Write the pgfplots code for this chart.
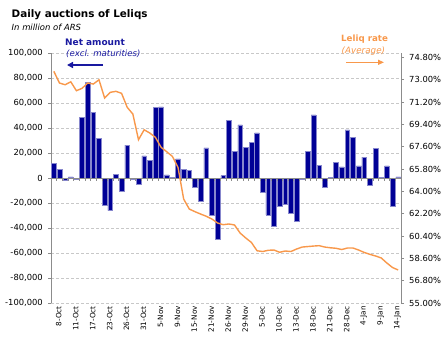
\documentclass[border=0pt]{standalone}
\usepackage{fontspec}
\setmainfont{DejaVu Sans}
\usepackage{pgfplots}
\usepackage{pgfplotstable}
\pgfplotsset{compat=1.18}
\usetikzlibrary{arrows.meta}
\definecolor{barblue}{RGB}{0,0,150}
\definecolor{baredge}{RGB}{135,135,205}
\definecolor{lorange}{RGB}{248,152,75}
\definecolor{gridgray}{RGB}{200,200,200}
\definecolor{axgray}{RGB}{140,140,140}
\definecolor{navytxt}{RGB}{25,25,160}

\pgfplotstableread{
x y
0 11500
1 7200
2 -2000
3 1000
4 -1000
5 48800
6 76500
7 52800
8 32000
9 -21400
10 -26000
11 3200
12 -10400
13 26400
14 -1000
15 -5000
16 17800
17 14400
18 56500
19 57000
20 2600
21 300
22 15400
23 7200
24 6400
25 -7200
26 -18700
27 24200
28 -29400
29 -48600
30 1900
31 46000
32 21300
33 42600
34 24800
35 28500
36 36200
37 -11500
38 -29400
39 -38700
40 -22200
41 -20800
42 -28000
43 -34700
44 -1000
45 21300
46 50600
47 10400
48 -7200
49 300
50 12800
51 9000
52 38600
53 32800
54 9800
55 16800
56 -5600
57 24000
58 300
59 9800
60 -22700
61 1000
}\bars

\pgfplotstableread{
x r
0 73.67
1 72.73
2 72.59
3 72.83
4 72.11
5 72.30
6 72.73
7 72.65
8 72.99
9 71.52
10 71.98
11 72.06
12 71.90
13 70.77
14 70.23
15 68.16
16 68.96
17 68.70
18 68.35
19 67.55
20 67.19
21 66.82
22 65.93
23 63.38
24 62.57
25 62.36
26 62.17
27 61.99
28 61.77
29 61.45
30 61.31
31 61.37
32 61.29
33 60.64
34 60.24
35 59.88
36 59.21
37 59.15
38 59.25
39 59.27
40 59.09
41 59.19
42 59.15
43 59.35
44 59.51
45 59.55
46 59.59
47 59.62
48 59.51
49 59.45
50 59.41
51 59.31
52 59.43
53 59.43
54 59.27
55 59.07
56 58.92
57 58.79
58 58.63
59 58.22
60 57.86
61 57.66
}\rate

\begin{document}
\begin{tikzpicture}[x=1bp,y=1bp]
\useasboundingbox (0,0) rectangle (447,349);
\begin{axis}[
  at={(51bp,46bp)}, anchor=south west,
  width=350bp, height=250bp, scale only axis,
  xmin=-0.5, xmax=61.5, ymin=-100000, ymax=100000,
  ytick={-100000,-80000,-60000,-40000,-20000,0,20000,40000,60000,80000,100000},
  ymajorgrids,
  grid style={gridgray, dash pattern=on 3bp off 2bp, line width=0.6bp},
  axis y line*=left, axis x line*=bottom,
  x axis line style={draw=none},
  y axis line style={axgray, line width=0.9bp},
  ytick style={axgray, line width=0.6bp},
  xtick={0,3,...,60},
  xticklabels={8-Oct,11-Oct,17-Oct,23-Oct,26-Oct,31-Oct,5-Nov,9-Nov,15-Nov,21-Nov,26-Nov,29-Nov,5-Dec,10-Dec,13-Dec,18-Dec,21-Dec,28-Dec,4-Jan,9-Jan,14-Jan},
  xtick style={draw=none},
  tick align=outside, major tick length=3bp,
  yticklabel style={font=\fontsize{8.4}{10}\selectfont, inner sep=0pt, xshift=-5bp},
  xticklabel style={font=\fontsize{7.3}{9}\selectfont, rotate=90, anchor=east, inner sep=0pt, yshift=-5bp},
  yticklabel={\pgfmathprintnumber[fixed,precision=0,1000 sep={,},assume math mode=true]{\tick}},
  scaled y ticks=false,
  ybar, bar width=4.7bp,
]
\addplot[fill=barblue, draw=baredge, line width=0.5bp] table[x=x,y=y]{\bars};
\draw[axgray, line width=0.9bp] (axis cs:-0.5,0) -- (axis cs:61.5,0);
\pgfplotsinvokeforeach{-0.5,0.5,...,61.5}{\draw[axgray, line width=0.5bp] (axis cs:#1,0) -- ([yshift=-2.5bp]axis cs:#1,0);}
\end{axis}
\begin{axis}[
  at={(51bp,46bp)}, anchor=south west,
  width=350bp, height=250bp, scale only axis,
  xmin=-0.5, xmax=61.5, ymin=55, ymax=75.15,
  axis y line*=right, axis x line=none,
  y axis line style={axgray, line width=0.9bp},
  ytick style={axgray, line width=0.6bp},
  tick align=outside, major tick length=3bp,
  ytick={55,56.8,58.6,60.4,62.2,64,65.8,67.6,69.4,71.2,73,74.8},
  yticklabel={\pgfmathprintnumber[fixed,fixed zerofill,precision=2,assume math mode=true]{\tick}\%},
  yticklabel style={font=\fontsize{8.4}{10}\selectfont, inner sep=0pt, xshift=5bp},
]
\addplot[lorange, line width=1.4bp, no marks] table[x=x,y=r]{\rate};
\end{axis}
\node[anchor=base west, inner sep=0pt, font=\fontsize{10.4}{12}\selectfont\bfseries] at (11.5,331.7) {Daily auctions of Leliqs};
\node[anchor=base west, inner sep=0pt, font=\fontsize{8.5}{10}\selectfont\itshape] at (11.5,319) {In million of ARS};
\node[anchor=base west, inner sep=0pt, text=navytxt, font=\fontsize{9}{10}\selectfont\bfseries] at (65,304) {Net amount};
\node[anchor=base west, inner sep=0pt, text=navytxt, font=\fontsize{8.6}{10}\selectfont\itshape] at (66,293) {(excl. maturities)};
\draw[navytxt, line width=1.6bp, -{Triangle[length=6bp,width=6bp]}] (103,284) -- (67,284);
\node[anchor=base west, inner sep=0pt, text=lorange, font=\fontsize{8.7}{10}\selectfont\bfseries] at (341,307.3) {Leliq rate};
\node[anchor=base west, inner sep=0pt, text=lorange, font=\fontsize{8.8}{10}\selectfont\itshape] at (341.5,295.7) {(Average)};
\draw[lorange, line width=1.2bp, -{Triangle[length=6bp,width=5bp]}] (346,286.7) -- (384,286.7);
\end{tikzpicture}
\end{document}
